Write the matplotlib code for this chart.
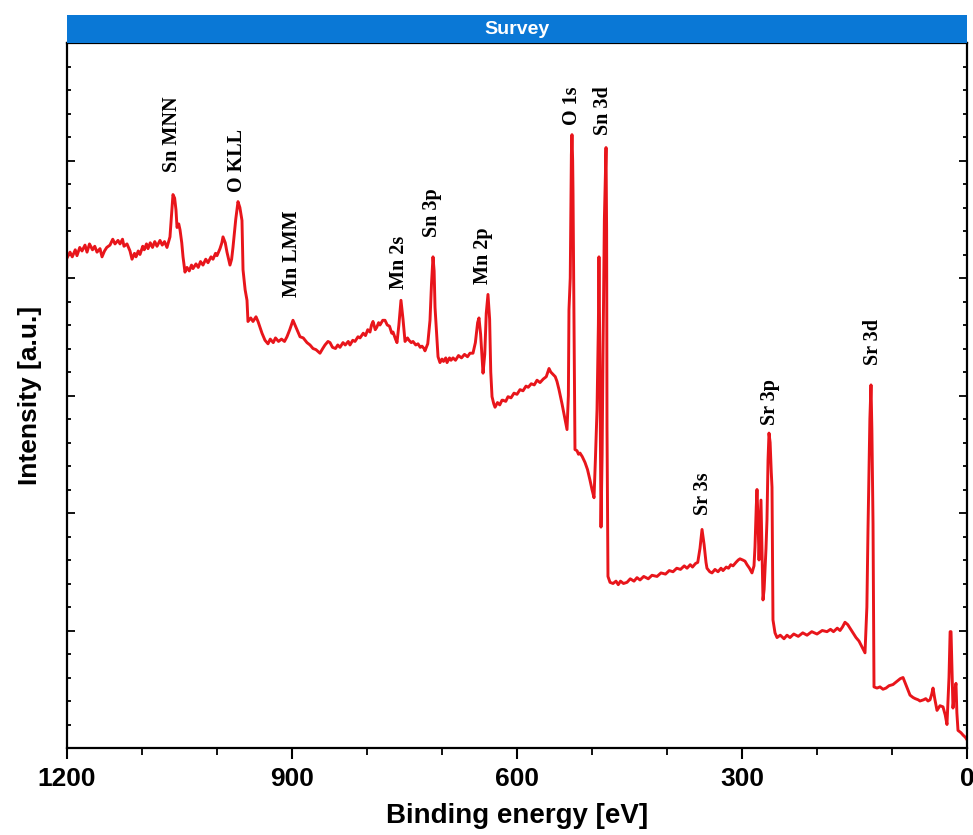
import matplotlib.pyplot as plt
from matplotlib.ticker import MultipleLocator

# XPS survey spectrum: (binding energy eV, intensity a.u.)
seg_1200_960 = [(1200, 41.7), (1196, 42.2), (1193, 41.8), (1189, 42.4), (1186.7, 41.9), (1183, 42.6),
                (1180, 42.3), (1176, 42.8), (1173.3, 42.2), (1170, 42.9), (1166, 42.4), (1163, 42.7),
                (1160, 42.2), (1156, 42.5), (1153.3, 41.8), (1150, 42.3), (1147, 42.6), (1142.7, 42.8),
                (1139, 43.3), (1136, 42.9), (1132, 43.2), (1129.3, 42.9), (1126, 43.3), (1124, 42.7),
                (1120, 42.9), (1116, 42.3), (1113.3, 41.6), (1110, 42.1), (1108, 41.8), (1105, 42.3),
                (1102.7, 42.0), (1099, 42.7), (1097, 42.4), (1094, 42.9), (1092, 42.5), (1089, 43.0),
                (1086, 42.6), (1083, 43.1), (1080, 42.7), (1076, 43.2), (1073, 42.8), (1070, 43.1),
                (1066.7, 42.6), (1062.7, 43.5), (1060.5, 45.5), (1058.7, 47.1), (1056.5, 46.8),
                (1054.7, 45.8), (1053.3, 44.3), (1051, 44.6), (1049.3, 44.1), (1047, 43.0),
                (1045.3, 41.8), (1042.7, 40.5), (1040, 40.9), (1037, 40.6), (1034, 41.1), (1032, 40.8),
                (1028, 41.2), (1025, 40.9), (1022, 41.4), (1018.7, 41.1), (1015, 41.6), (1012, 41.3),
                (1008, 41.8), (1005.3, 41.6), (1002, 42.1), (1000, 41.9), (996, 42.5), (993.5, 43.0),
                (992, 43.5), (989, 43.0), (986.7, 42.2), (982.7, 41.1), (980.5, 41.6), (978.7, 42.6),
                (975, 45.0), (972, 46.5), (969.5, 46.0), (966.7, 44.9), (965.3, 40.7), (962.5, 39.0),
                (960, 38.1)]
seg_960_620 = [(958.7, 36.3), (955, 36.6), (952, 36.3), (948, 36.7), (945.3, 36.3), (940, 35.3),
               (936, 34.7), (932, 34.4), (929, 34.8), (925, 34.5), (922, 34.9), (918, 34.6), (914, 34.8),
               (910, 34.6), (906.7, 35.0), (903, 35.6), (898.7, 36.4), (894, 35.7), (889.3, 35.0),
               (885, 34.9), (880, 34.5), (876, 34.3), (872, 34.0), (868, 33.9), (862.7, 33.6),
               (859, 34.0), (856, 34.3), (852, 34.6), (849.3, 34.5), (846, 34.1), (842, 34.0),
               (839, 34.3), (836, 34.1), (832, 34.5), (829, 34.3), (825, 34.6), (822.7, 34.3),
               (819, 34.7), (816, 34.6), (812, 35.0), (809.3, 34.9), (805, 35.3), (802, 35.1),
               (799, 35.6), (796, 35.4), (794, 36.0), (792, 36.3), (789, 35.6), (787, 35.8),
               (784.5, 36.2), (782.7, 36.0), (779, 36.4), (776, 36.4), (773, 36.0), (770, 35.9),
               (767, 35.3), (765.3, 35.4), (762, 34.8), (760, 34.5), (757.5, 36.0), (754.7, 38.1),
               (752, 36.5), (749.3, 34.6), (746, 34.9), (744, 34.7), (741, 34.5), (738.7, 34.6),
               (735, 34.3), (732, 34.4), (729, 34.1), (726.7, 34.2), (724, 34.0), (722.7, 33.8),
               (719, 34.4), (716, 36.4), (714, 39.5), (712, 41.8), (710.5, 40.6), (709.3, 37.5),
               (707, 35.0), (705.3, 33.3), (702.7, 32.8), (700, 33.1), (698, 32.9), (695, 33.2),
               (693.3, 32.8), (690, 33.2), (688, 33.0), (685.3, 33.2), (682, 33.0), (678, 33.4),
               (674, 33.2), (670, 33.5), (666, 33.3), (662.7, 33.6), (658.7, 33.6), (655.5, 34.5),
               (652.5, 36.2), (650.7, 36.6), (648.5, 35.2), (645.3, 31.9), (643, 33.5), (641, 37.0),
               (638.7, 38.6), (636.5, 36.5), (635, 32.0), (633.3, 29.9), (631, 29.3), (629.3, 29.0),
               (626, 29.4), (623, 29.2), (620, 29.6)]
seg_620_475 = [(618.7, 29.6), (615, 29.5), (612, 29.9), (608, 29.8), (604, 30.2), (600, 30.1),
               (596, 30.5), (592, 30.4), (588, 30.8), (585, 30.7), (581, 31.0), (577, 30.9),
               (573.3, 31.3), (569.3, 31.1), (565, 31.4), (561, 31.6), (557.3, 32.3), (555, 32.0),
               (552, 31.8), (549, 31.6), (546.7, 31.2), (544, 30.5), (542, 29.9), (540, 29.3),
               (537, 28.3), (535, 27.6), (533.3, 27.1), (531.5, 30.0), (530.7, 37.3), (529, 40.0),
               (527.5, 50.5), (526.7, 52.2), (525.8, 50.0), (525.3, 47.2), (524, 36.4), (522.7, 25.4),
               (520, 25.3), (518, 25.0), (516, 25.1), (513, 24.8), (509.3, 24.3), (506, 23.7),
               (502.7, 22.8), (500, 22.0), (497.3, 21.3), (495.5, 24.5), (493.3, 28.8), (491.5, 36.0),
               (490.7, 41.8), (489.5, 33.0), (488, 18.8), (486.5, 25.0), (485.3, 33.6), (483.5, 45.0),
               (481.3, 51.1), (480.5, 44.0), (480, 27.3), (478.7, 14.6), (476, 14.1)]
seg_475_255 = [(472, 14.0), (468, 14.2), (465, 13.9), (462, 14.2), (458, 14.0), (453.3, 14.1),
               (449, 14.4), (444, 14.2), (440, 14.5), (436, 14.3), (431, 14.6), (425, 14.4),
               (420, 14.7), (413.3, 14.6), (408, 14.9), (402, 14.8), (397, 15.1), (392, 15.0),
               (387, 15.3), (382, 15.2), (377, 15.5), (373.3, 15.3), (369, 15.6), (366, 15.4),
               (362, 15.7), (359, 15.8), (356, 17.0), (353.3, 18.6), (350.5, 17.3), (348, 15.8),
               (346.7, 15.3), (343, 15.0), (340, 14.9), (336, 15.2), (332, 15.0), (328, 15.3),
               (325.3, 15.1), (321, 15.4), (318, 15.3), (315, 15.6), (312, 15.5), (308, 15.8),
               (305, 16.0), (302.7, 16.1), (299, 16.0), (296, 15.9), (293.3, 15.6), (290, 15.3),
               (286.7, 14.9), (284, 15.5), (282.7, 17.1), (281, 20.5), (280, 22.0), (278.5, 19.0),
               (277.3, 16.0), (276, 18.5), (274.7, 21.1), (273.5, 17.5), (272, 12.6), (270.5, 13.5),
               (269.3, 15.1), (268, 17.0), (266.7, 19.4), (265.3, 24.5), (264, 26.8), (262.5, 26.0),
               (261, 23.5), (260, 22.2), (258.7, 10.9), (256, 9.8), (253.3, 9.4)]
seg_255_0 = [(249, 9.6), (244, 9.3), (240, 9.6), (236, 9.4), (231, 9.7), (225, 9.5), (219, 9.8),
             (213.3, 9.6), (207, 9.9), (200, 9.7), (193, 10.0), (186.7, 9.9), (182, 10.1), (178, 9.9),
             (173, 10.2), (169.3, 10.0), (166, 10.3), (162.7, 10.7), (159, 10.5), (156, 10.2),
             (152, 9.8), (148, 9.4), (144, 9.1), (140, 8.6), (136, 8.1), (133.5, 12.0), (132, 18.6),
             (129.5, 28.0), (128, 30.9), (126.8, 27.0), (125.3, 19.1), (124, 5.2), (120, 5.1),
             (116, 5.2), (112, 5.0), (108, 5.1), (104, 5.3), (98.7, 5.4), (93, 5.7), (89, 5.9),
             (85.3, 6.0), (81, 5.3), (76, 4.5), (72, 4.3), (69, 4.2), (65, 4.1), (62.7, 4.0),
             (58, 4.1), (55, 4.2), (52, 4.0), (49.3, 4.1), (47, 4.6), (45.3, 5.1), (43, 4.2),
             (40, 3.2), (36, 3.6), (32, 3.5), (29, 2.8), (26.7, 2.0), (24, 6.0), (22.5, 9.9),
             (21.3, 9.9), (20, 6.5), (18.7, 3.4), (16.5, 4.8), (14.7, 5.5), (13.5, 3.0), (12, 1.5),
             (8, 1.3), (5.3, 1.1), (2, 0.9), (0, 0.7)]

peak_names = ["Sn MNN", "O KLL", "Mn LMM", "Mn 2s", "Sn 3p", "Mn 2p",
              "O 1s", "Sn 3d", "Sr 3s", "Sr 3p", "Sr 3d"]
peak_energy = [1060, 973, 900, 757, 713, 645, 527, 485, 352, 263, 125]
peak_label_y = [49.0, 47.3, 38.4, 39.1, 43.5, 39.5, 53.0, 52.2, 19.8, 27.5, 32.6]

spectrum = seg_1200_960 + seg_960_620 + seg_620_475 + seg_475_255 + seg_255_0
energy = [p[0] for p in spectrum]
intensity = [p[1] for p in spectrum]

fig = plt.figure(figsize=(9.73, 8.35), dpi=100)
ax = fig.add_axes([67 / 973, 87 / 835, 900 / 973, 705 / 835])

ax.plot(energy, intensity, color="#e8151b", lw=2.1)

ax.set_xlim(1200, 0)
ax.set_ylim(0, 60)
ax.xaxis.set_major_locator(MultipleLocator(300))
ax.xaxis.set_minor_locator(MultipleLocator(100))
ax.yaxis.set_major_locator(MultipleLocator(10))
ax.yaxis.set_minor_locator(MultipleLocator(2))
ax.tick_params(axis="x", which="major", direction="out", length=8, width=1.5, pad=6,
               labelsize=19)
ax.tick_params(axis="x", which="minor", direction="out", length=5, width=1.3)
ax.tick_params(axis="y", which="both", direction="in", left=True, right=True,
               labelleft=False, width=1.3)
ax.tick_params(axis="y", which="major", length=6)
ax.tick_params(axis="y", which="minor", length=3)
for lab in ax.get_xticklabels():
    lab.set_fontfamily("Liberation Sans")
    lab.set_fontweight("bold")
for sp in ax.spines.values():
    sp.set_linewidth(1.6)

ax.set_xlabel("Binding energy [eV]", fontsize=20, fontweight="bold",
              fontfamily="Liberation Sans", labelpad=8)
ax.set_ylabel("Intensity [a.u.]", fontsize=19, fontweight="bold",
              fontfamily="Liberation Sans", labelpad=18)

for name, e, y in zip(peak_names, peak_energy, peak_label_y):
    ax.text(e, y, name, rotation=90, ha="center", va="bottom", fontsize=14.5,
            fontweight="bold", fontfamily="Liberation Serif")

# blue title bar
bar = fig.add_axes([67 / 973, 792 / 835, 900 / 973, 28 / 835])
bar.set_facecolor("#0a78d6")
bar.set_xticks([])
bar.set_yticks([])
for sp in bar.spines.values():
    sp.set_visible(False)
bar.text(0.5, 0.5, "Survey", ha="center", va="center", color="white", fontsize=14,
         fontweight="bold", fontfamily="Liberation Sans", transform=bar.transAxes)

fig.savefig("out.png", dpi=100)
